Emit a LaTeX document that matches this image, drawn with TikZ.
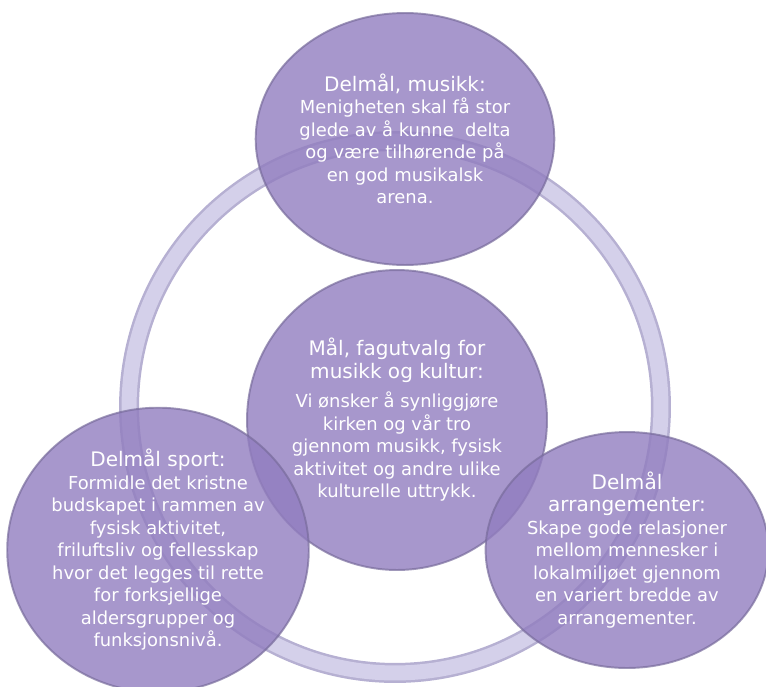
\documentclass[tikz,border=0pt]{standalone}
\usepackage{fontspec}
\setmainfont{DejaVu Sans}
\usetikzlibrary{shapes.geometric}

\definecolor{bubblefill}{RGB}{145,125,191}
\definecolor{bubbleedge}{RGB}{120,108,156}
\definecolor{ringedge}{RGB}{182,176,210}
\definecolor{ringfill}{RGB}{212,208,234}

\newcommand{\bubbletitle}[1]{{\fontsize{11.4}{14}\selectfont #1}}

\begin{document}
\begin{tikzpicture}[x=0.02cm,y=-0.02cm,
		bubble/.style={ellipse,draw=bubbleedge,line width=1.1pt,fill=bubblefill,fill opacity=0.8,draw opacity=0.7,text opacity=1,text=white,inner sep=0pt,align=center,font={\fontsize{10.2}{12.8}\selectfont}}]

		\useasboundingbox (0,0) rectangle (766,686);

		\coordinate (ringc) at (395,407);
		\draw[ringedge,line width=0.4cm] (ringc) circle (5.32cm);
		\draw[ringfill,line width=0.3cm] (ringc) circle (5.32cm);

		\node[bubble,minimum width=5.72cm,minimum height=5.04cm] (musikk) at (405,139) {\bubbletitle{Delmål, musikk:}\\Menigheten skal få stor\\glede av å kunne\ \ delta\\og være tilhørende på\\en god musikalsk\\arena.};

		\node[bubble,minimum width=6cm,minimum height=6cm] (maal) at (397,420) {\bubbletitle{Mål, fagutvalg for}\\\bubbletitle{musikk og kultur:}\\[4pt]Vi ønsker å synliggjøre\\kirken og vår tro\\gjennom musikk, fysisk\\aktivitet og andre ulike\\kulturelle uttrykk.};

		\node[bubble,minimum width=6cm,minimum height=4.88cm] (sport) at (158,550) {\bubbletitle{Delmål sport:}\\Formidle det kristne\\budskapet i rammen av\\fysisk aktivitet,\\friluftsliv og fellesskap\\hvor det legges til rette\\for forksjellige\\aldersgrupper og\\funksjonsnivå.};

		\node[bubble,minimum width=5.6cm,minimum height=4.72cm] (arr) at (627,550) {\bubbletitle{Delmål}\\\bubbletitle{arrangementer:}\\Skape gode relasjoner\\mellom mennesker i\\lokalmiljøet gjennom\\en variert bredde av\\arrangementer.};

\end{tikzpicture}
\end{document}
